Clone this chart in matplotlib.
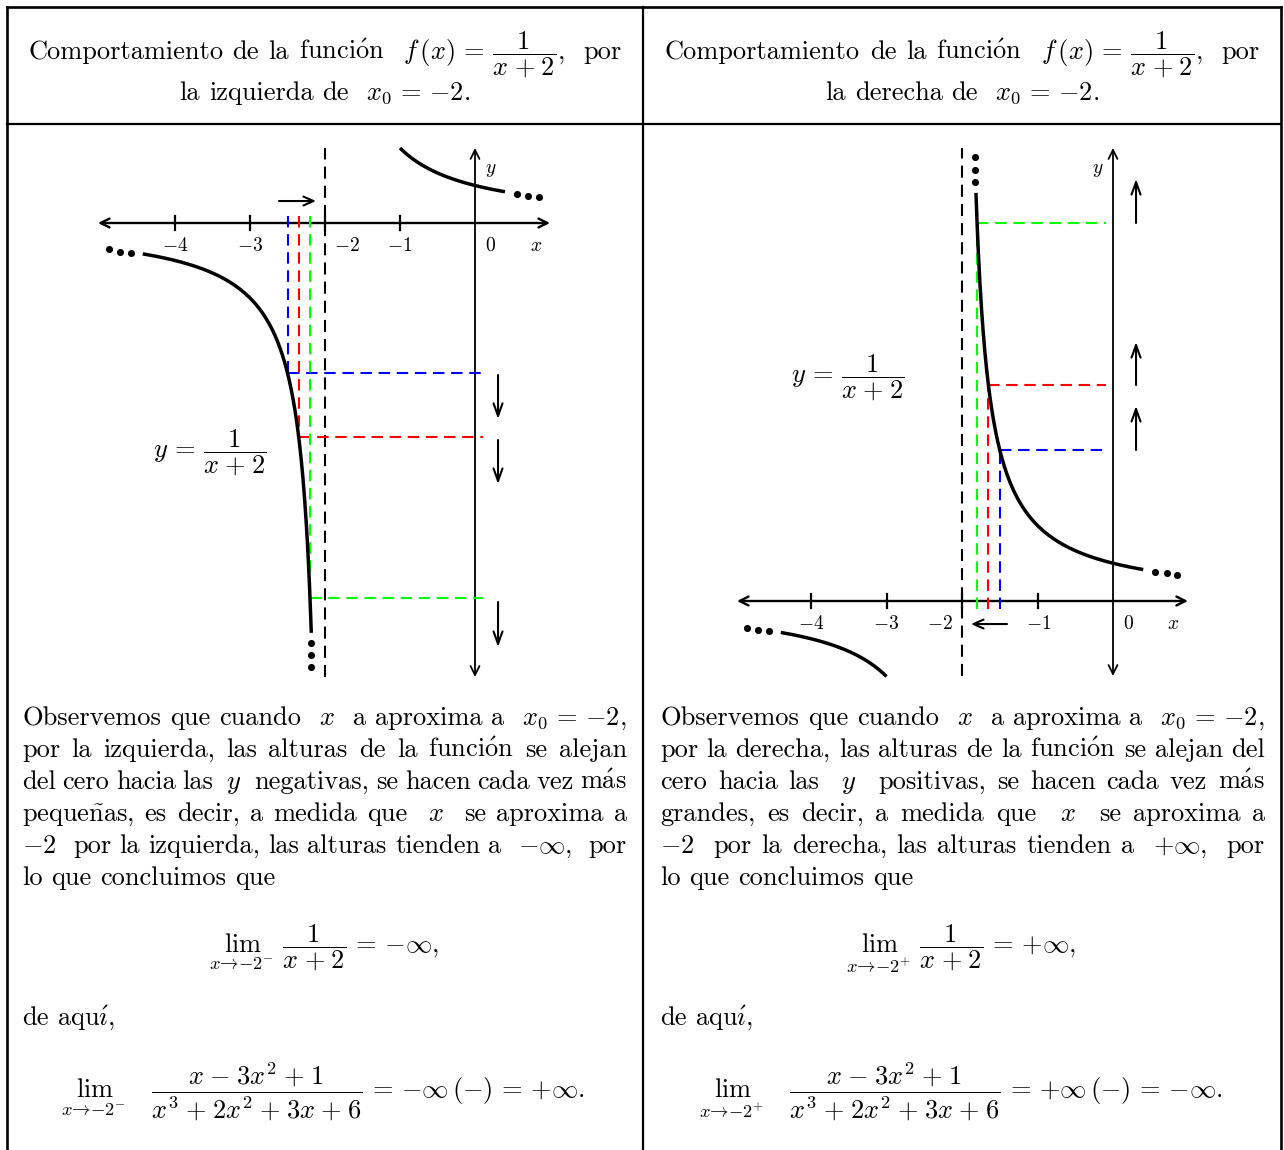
import numpy as np
import matplotlib
matplotlib.use("Agg")
import matplotlib.pyplot as plt

plt.rcParams['mathtext.fontset'] = 'cm'
plt.rcParams['font.family'] = ['cmr10', 'DejaVu Serif']
plt.rcParams['axes.formatter.use_mathtext'] = True

# ---------------- data ----------------
asymptote_x = -2.0
tick_values = [-4, -3, -2, -1]
tick_labels = ['$-4$', '$-3$', '$-2$', '$-1$']
approach_colors = ['#0000ff', '#ff0000', '#00ff00']
# left-hand approach (x values of the blue, red, green guides)
left_approach_x = [-2.5, -2.35, -2.2]
# right-hand approach
right_approach_x = [-1.5, -1.65, -1.8]
# plotted domain of each branch
left_panel_branches = [(-4.43, -2.183), (-1.0, 0.4)]
right_panel_branches = [(-4.40, -3.0), (-1.815, 0.4)]


def f(x):
    return 1.0 / (x + 2.0)


W, H = 1284, 1150
fig = plt.figure(figsize=(W / 100, H / 100), dpi=100)
bg = fig.add_axes([0, 0, 1, 1])
bg.set_xlim(0, W)
bg.set_ylim(H, 0)
bg.axis('off')
renderer = fig.canvas.get_renderer()

FS = 19
BLACK = 'black'

# ---------------- table frame ----------------
LW_T = 1.9
bg.plot([7, 1281], [7, 7], color=BLACK, lw=LW_T, solid_capstyle='projecting')
bg.plot([7, 7], [7, 1150], color=BLACK, lw=LW_T)
bg.plot([1281, 1281], [7, 1150], color=BLACK, lw=LW_T)
bg.plot([643, 643], [7, 1150], color=BLACK, lw=1.6)
bg.plot([7, 1281], [124, 124], color=BLACK, lw=1.6)

ACCENTS = {'ó': r'\acute{o}', 'á': r'\acute{a}', 'í': r'\acute{\imath}',
           'ñ': r'\tilde{n}', 'é': r'\acute{e}'}


def tex_word(w):
    """Words with accents are typeset through mathtext so they stay in CM."""
    if w.startswith('$') or all(ord(ch) < 128 for ch in w):
        return w
    out = ''.join(ACCENTS.get(ch, ch) for ch in w)
    return r'$\mathrm{' + out + '}$'


# ---------------- text helpers ----------------
def width_of(txt, fs=FS):
    t = bg.text(0, 0, txt, fontsize=fs)
    w = t.get_window_extent(renderer).width
    t.remove()
    return w


SPACE = width_of('a a') - width_of('aa')


def parse(line):
    parts = line.split(' ')
    tokens, weights = [], []
    pending = 0
    for p in parts:
        if p == '':
            pending += 1
            continue
        if tokens:
            weights.append(1 + pending)
        tokens.append(tex_word(p))
        pending = 0
    return tokens, weights


def place_line(line, x0, x1, y, justify=True, center=False, fs=FS):
    tokens, weights = parse(line)
    widths = [width_of(t, fs) for t in tokens]
    total = sum(widths)
    if justify and weights:
        unit = (x1 - x0 - total) / sum(weights)
    else:
        unit = SPACE
    full = total + unit * sum(weights)
    x = x0 if not center else (x0 + x1) / 2 - full / 2
    for i, (t, w) in enumerate(zip(tokens, widths)):
        bg.text(x, y, t, fontsize=fs, ha='left', va='baseline')
        x += w
        if i < len(weights):
            x += unit * weights[i]


EQ = r'\,=\,'
PL = r'\hspace{0.07}+\hspace{0.07}'
MI = r'\hspace{0.07}-\hspace{0.07}'
FRAC = r'\dfrac{1}{x' + PL + '2}'

# ---------------- header ----------------
head1 = r'Comportamiento de la función  $f\,(x)' + EQ + FRAC + ',$  por'
place_line(head1, 28, 622, 59)
place_line(r'la izquierda de  $x_0' + EQ + '{-2}.$', 28, 622, 100, justify=False, center=True)
place_line(head1, 665, 1260, 59)
place_line(r'la derecha de  $x_0' + EQ + '{-2}.$', 665, 1260, 100, justify=False, center=True)

# ---------------- paragraphs ----------------
X0EQ = r'$x_0' + EQ + r'{-2},$'
left_par = [
    r'Observemos que cuando  $x$  a aproxima a  ' + X0EQ,
    r'por la izquierda, las alturas de la función se alejan',
    r'del cero hacia las  $y$  negativas, se hacen cada vez más',
    r'pequeñas, es decir, a medida que  $x$  se aproxima a',
    r'$-2$  por la izquierda, las alturas tienden a  $-\infty,$  por',
    r'lo que concluimos que',
]
right_par = [
    r'Observemos que cuando  $x$  a aproxima a  ' + X0EQ,
    r'por la derecha, las alturas de la función se alejan del',
    r'cero hacia las  $y$  positivas, se hacen cada vez más',
    r'grandes, es decir, a medida que  $x$  se aproxima a',
    r'$-2$  por la derecha, las alturas tienden a  $+\infty,$  por',
    r'lo que concluimos que',
]
base = 725
for i, ln in enumerate(left_par):
    place_line(ln, 22, 627, base + 32 * i, justify=(i < len(left_par) - 1))
for i, ln in enumerate(right_par):
    place_line(ln, 660, 1265, base + 32 * i, justify=(i < len(right_par) - 1))

lim1_l = r'$\lim_{x\to -2^{-}}\;' + FRAC + EQ + r'{-\infty},$'
lim1_r = r'$\lim_{x\to -2^{+}}\;' + FRAC + EQ + r'{+\infty},$'
big = r'\dfrac{x' + MI + '3x^2' + PL + '1}{x^3' + PL + '2x^2' + PL + '3x' + PL + '6}'
lim2_l = r'$\lim_{x\to -2^{-}}\quad ' + big + EQ + r'{-\infty}\,({-})' + EQ + r'{+\infty}.$'
lim2_r = r'$\lim_{x\to -2^{+}}\quad ' + big + EQ + r'{+\infty}\,({-})' + EQ + r'{-\infty}.$'

bg.text(324, 952, lim1_l, fontsize=FS, ha='center', va='baseline')
bg.text(961, 952, lim1_r, fontsize=FS, ha='center', va='baseline')
place_line('de aquí,', 22, 627, 1025, justify=False)
place_line('de aquí,', 660, 1265, 1025, justify=False)
bg.text(323, 1098, lim2_l, fontsize=FS, ha='center', va='baseline')
bg.text(961, 1098, lim2_r, fontsize=FS, ha='center', va='baseline')


# ---------------- plots ----------------
def make_axes(ox, oy, s, box):
    x0, y0, x1, y1 = box
    ax = fig.add_axes([x0 / W, 1 - y1 / H, (x1 - x0) / W, (y1 - y0) / H])
    ax.set_xlim((x0 - ox) / s, (x1 - ox) / s)
    ax.set_ylim((oy - y1) / s, (oy - y0) / s)
    ax.axis('off')
    ax.patch.set_alpha(0)
    return ax


def arrow(ax, p0, p1, style='->', lw=1.5, ms=15, hl=0.4, hw=0.2):
    ax.annotate('', xy=p1, xytext=p0, annotation_clip=False,
                arrowprops=dict(arrowstyle=f'{style},head_length={hl},head_width={hw}',
                                lw=lw, color=BLACK, shrinkA=0, shrinkB=0,
                                mutation_scale=ms))


def dots(ax, xs, ys):
    ax.scatter(xs, ys, s=26, color=BLACK, zorder=6, clip_on=False, linewidths=0)


TICK_FS = 14
DASH_K = (0, (5.8, 3.4))
DASH_C = (0, (5.5, 3.2))


def common(ax, xr, yr, branches, tick_label_pos, xlab, ylab, zero_lab):
    # asymptote
    ax.plot([asymptote_x, asymptote_x], yr, color=BLACK, lw=1.5, ls=DASH_K, clip_on=False)
    # axes
    arrow(ax, (xr[0], 0), (xr[1], 0), style='<->', lw=1.7, ms=16)
    arrow(ax, (0, yr[0]), (0, yr[1]), style='<->', lw=1.3, ms=16)
    for t in tick_values:
        ax.plot([t, t], [-0.093, 0.093], color=BLACK, lw=1.6, clip_on=False)
    for t, lab, xp in zip(tick_values, tick_labels, tick_label_pos):
        ax.text(xp, -0.31, lab, fontsize=TICK_FS, ha='center', va='center')
    ax.text(zero_lab, -0.31, '$0$', fontsize=TICK_FS, ha='center', va='center')
    ax.text(xlab[0], xlab[1], '$x$', fontsize=TICK_FS, ha='center', va='center')
    ax.text(ylab[0], ylab[1], '$y$', fontsize=TICK_FS, ha='center', va='center')
    for a, b in branches:
        xs = np.linspace(a, b, 300)
        ax.plot(xs, f(xs), color=BLACK, lw=2.5, clip_on=False, zorder=5,
                solid_capstyle='butt')


LABEL = r'$y' + EQ + FRAC + '$'

# Left panel
axL = make_axes(475, 223, 75.0, (85, 135, 565, 690))
common(axL, (-5.027, 1.0), (-6.053, 1.0), left_panel_branches,
       [-4, -3, -1.707, -1.0], (0.813, -0.31), (0.21, 0.71), 0.2)
for xa, c in zip(left_approach_x, approach_colors):
    ya = f(xa)
    axL.plot([xa, xa], [0.09, ya], color=c, lw=1.5, ls=DASH_C, zorder=4)
    axL.plot([xa, 0.107], [ya, ya], color=c, lw=1.5, ls=DASH_C, zorder=4)
arrow(axL, (-2.613, 0.293), (-2.12, 0.293), lw=1.5, ms=16, hl=0.45, hw=0.2)
for y0, y1 in [(-2.027, -2.613), (-2.893, -3.48), (-5.053, -5.653)]:
    arrow(axL, (0.307, y0), (0.307, y1), lw=1.5, ms=18, hl=0.5, hw=0.18)
dots(axL, [-4.88, -4.733, -4.587], [-0.347, -0.387, -0.40])
dots(axL, [0.56, 0.707, 0.853], [0.387, 0.36, 0.347])
dots(axL, [-2.187, -2.187, -2.187], [-5.6, -5.76, -5.92])
axL.text(-3.54, -3.12, LABEL, fontsize=FS, ha='center', va='baseline')

# Right panel
axR = make_axes(1113, 601, 75.5, (725, 135, 1200, 690))
common(axR, (-4.98, 0.993), (-0.993, 6.0), right_panel_branches,
       [-4, -3, -2.29, -0.99], (0.79, -0.31), (-0.2, 5.71), 0.2)
for xa, c in zip(right_approach_x, approach_colors):
    ya = f(xa)
    axR.plot([xa, xa], [-0.106, ya], color=c, lw=1.5, ls=DASH_C, zorder=4)
    axR.plot([xa, -0.093], [ya, ya], color=c, lw=1.5, ls=DASH_C, zorder=4)
arrow(axR, (-1.404, -0.305), (-1.881, -0.305), lw=1.5, ms=16, hl=0.45, hw=0.2)
for y0, y1 in [(5.007, 5.589), (2.861, 3.43), (2.0, 2.583)]:
    arrow(axR, (0.305, y0), (0.305, y1), lw=1.5, ms=18, hl=0.5, hw=0.18)
dots(axR, [-4.848, -4.702, -4.556], [-0.358, -0.384, -0.397])
dots(axR, [0.556, 0.715, 0.848], [0.384, 0.371, 0.344])
dots(axR, [-1.83, -1.83, -1.83], [5.88, 5.71, 5.55])
axR.text(-3.517, 2.90, LABEL, fontsize=FS, ha='center', va='baseline')

fig.savefig('out.png', dpi=100)
